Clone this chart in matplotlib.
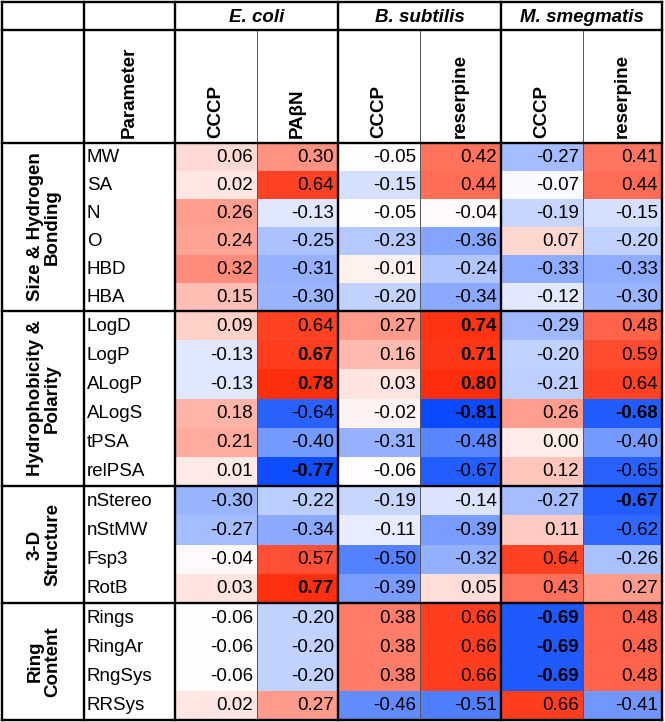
import numpy as np
import matplotlib
matplotlib.use("Agg")
import matplotlib.pyplot as plt
from matplotlib.colors import LinearSegmentedColormap, TwoSlopeNorm

plt.rcParams['font.family'] = ['Liberation Sans', 'DejaVu Sans']

# ---------------- data ----------------
organisms = ["E. coli", "B. subtilis", "M. smegmatis"]
treatments = ["CCCP", "PA\u03b2N", "CCCP", "reserpine", "CCCP", "reserpine"]
groups = ["Size & Hydrogen\nBonding", "Hydrophobicity &\nPolarity", "3-D\nStructure", "Ring\nContent"]
group_sizes = [6, 6, 4, 4]
parameters = ["MW", "SA", "N", "O", "HBD", "HBA",
              "LogD", "LogP", "ALogP", "ALogS", "tPSA", "relPSA",
              "nStereo", "nStMW", "Fsp3", "RotB",
              "Rings", "RingAr", "RngSys", "RRSys"]

ecoli_cccp = [0.06, 0.02, 0.26, 0.24, 0.32, 0.15, 0.09, -0.13, -0.13, 0.18, 0.21, 0.01,
              -0.30, -0.27, -0.04, 0.03, -0.06, -0.06, -0.06, 0.02]
ecoli_pabn = [0.30, 0.64, -0.13, -0.25, -0.31, -0.30, 0.64, 0.67, 0.78, -0.64, -0.40, -0.77,
              -0.22, -0.34, 0.57, 0.77, -0.20, -0.20, -0.20, 0.27]
bsub_cccp = [-0.05, -0.15, -0.05, -0.23, -0.01, -0.20, 0.27, 0.16, 0.03, -0.02, -0.31, -0.06,
             -0.19, -0.11, -0.50, -0.39, 0.38, 0.38, 0.38, -0.46]
bsub_res = [0.42, 0.44, -0.04, -0.36, -0.24, -0.34, 0.74, 0.71, 0.80, -0.81, -0.48, -0.67,
            -0.14, -0.39, -0.32, 0.05, 0.66, 0.66, 0.66, -0.51]
msmeg_cccp = [-0.27, -0.07, -0.19, 0.07, -0.33, -0.12, -0.29, -0.20, -0.21, 0.26, 0.00, 0.12,
              -0.27, 0.11, 0.64, 0.43, -0.69, -0.69, -0.69, 0.66]
msmeg_res = [0.41, 0.44, -0.15, -0.20, -0.33, -0.30, 0.48, 0.59, 0.64, -0.68, -0.40, -0.65,
             -0.67, -0.62, -0.26, 0.27, 0.48, 0.48, 0.48, -0.41]

# bold cells (row, col)
bold_cells = {(7, 1), (8, 1), (11, 1), (15, 1),
              (6, 3), (7, 3), (8, 3), (9, 3),
              (16, 4), (17, 4), (18, 4),
              (9, 5), (12, 5)}

values = np.array([ecoli_cccp, ecoli_pabn, bsub_cccp, bsub_res, msmeg_cccp, msmeg_res]).T

# ---------------- layout (pixels) ----------------
W, H = 665, 722
col_edges = [2, 84, 175, 257, 338, 420, 501, 583, 662]
header_y = [2, 30, 143]
group_edges = [143, 311, 486, 603, 720]

row_edges = []
for g, n in enumerate(group_sizes):
    e = np.linspace(group_edges[g], group_edges[g + 1], n + 1)
    row_edges.extend(e[:-1] if g < len(group_sizes) - 1 else e)
row_edges = np.array(row_edges)

fig = plt.figure(figsize=(W / 100, H / 100), dpi=100)
ax = fig.add_axes([0, 0, 1, 1])
ax.set_xlim(0, W)
ax.set_ylim(H, 0)
ax.axis('off')

# diverging colour scale (slightly non-linear ramp towards saturated ends)
blue_end = np.array([10, 75, 255]) / 255
red_end = np.array([255, 45, 12]) / 255
white = np.ones(3)
stops = []
for u in np.linspace(0, 1, 41):
    if u < 0.5:
        t = (0.5 - u) / 0.5
        f = 1 - (1 - t) ** 1.35
        c = white + (blue_end - white) * f
    else:
        t = (u - 0.5) / 0.5
        f = 1 - (1 - t) ** 1.35
        c = white + (red_end - white) * f
    stops.append((u, tuple(np.clip(c, 0, 1))))
cmap = LinearSegmentedColormap.from_list("bwr_x", stops)
norm = TwoSlopeNorm(vmin=-0.81, vcenter=-0.055, vmax=0.80)

ax.pcolormesh(col_edges[2:], row_edges, values, cmap=cmap, norm=norm, shading='flat')

FS = 13.5
# values
for i in range(values.shape[0]):
    yc = (row_edges[i] + row_edges[i + 1]) / 2
    for j in range(values.shape[1]):
        x_r = col_edges[j + 3] - 4
        v = values[i, j]
        ax.text(x_r, yc + 0.5, f"{v:.2f}", ha='right', va='center', fontsize=FS,
                fontweight='bold' if (i, j) in bold_cells else 'normal', color='black')

# parameter names
for i, p in enumerate(parameters):
    yc = (row_edges[i] + row_edges[i + 1]) / 2
    ax.text(col_edges[1] + 3, yc + 0.5, p, ha='left', va='center', fontsize=FS)

# group labels
for g, name in enumerate(groups):
    yc = (group_edges[g] + group_edges[g + 1]) / 2
    ax.text((col_edges[0] + col_edges[1]) / 2 + 1, yc, name, rotation=90, ha='center', va='center',
            fontsize=FS, fontweight='bold', linespacing=1.0, multialignment='center')

# header row 1: organisms
for k, org in enumerate(organisms):
    xc = (col_edges[2 + 2 * k] + col_edges[4 + 2 * k]) / 2
    ax.text(xc, (header_y[0] + header_y[1]) / 2 + 1, org, ha='center', va='center',
            fontsize=FS, fontweight='bold', fontstyle='italic')

# header row 2
ax.text((col_edges[1] + col_edges[2]) / 2, header_y[2] - 5, "Parameter", rotation=90,
        ha='center', va='bottom', fontsize=FS, fontweight='bold')
for j, t in enumerate(treatments):
    xc = (col_edges[j + 2] + col_edges[j + 3]) / 2
    ax.text(xc, header_y[2] - 5, t, rotation=90, ha='center', va='bottom',
            fontsize=FS, fontweight='bold')

# grid lines
thick = dict(color='black', lw=1.7, solid_capstyle='projecting')
thin = dict(color='#555555', lw=0.7)
for x in [col_edges[0], col_edges[1], col_edges[2], col_edges[4], col_edges[6], col_edges[8]]:
    ax.plot([x, x], [header_y[0], H - 2], **thick)
for x in [col_edges[3], col_edges[5], col_edges[7]]:
    ax.plot([x, x], [header_y[1], H - 2], **thin)
for y in header_y + group_edges[1:-1] + [H - 2]:
    ax.plot([col_edges[0], col_edges[-1]], [y, y], **thick)

fig.savefig("out.png", dpi=100)
